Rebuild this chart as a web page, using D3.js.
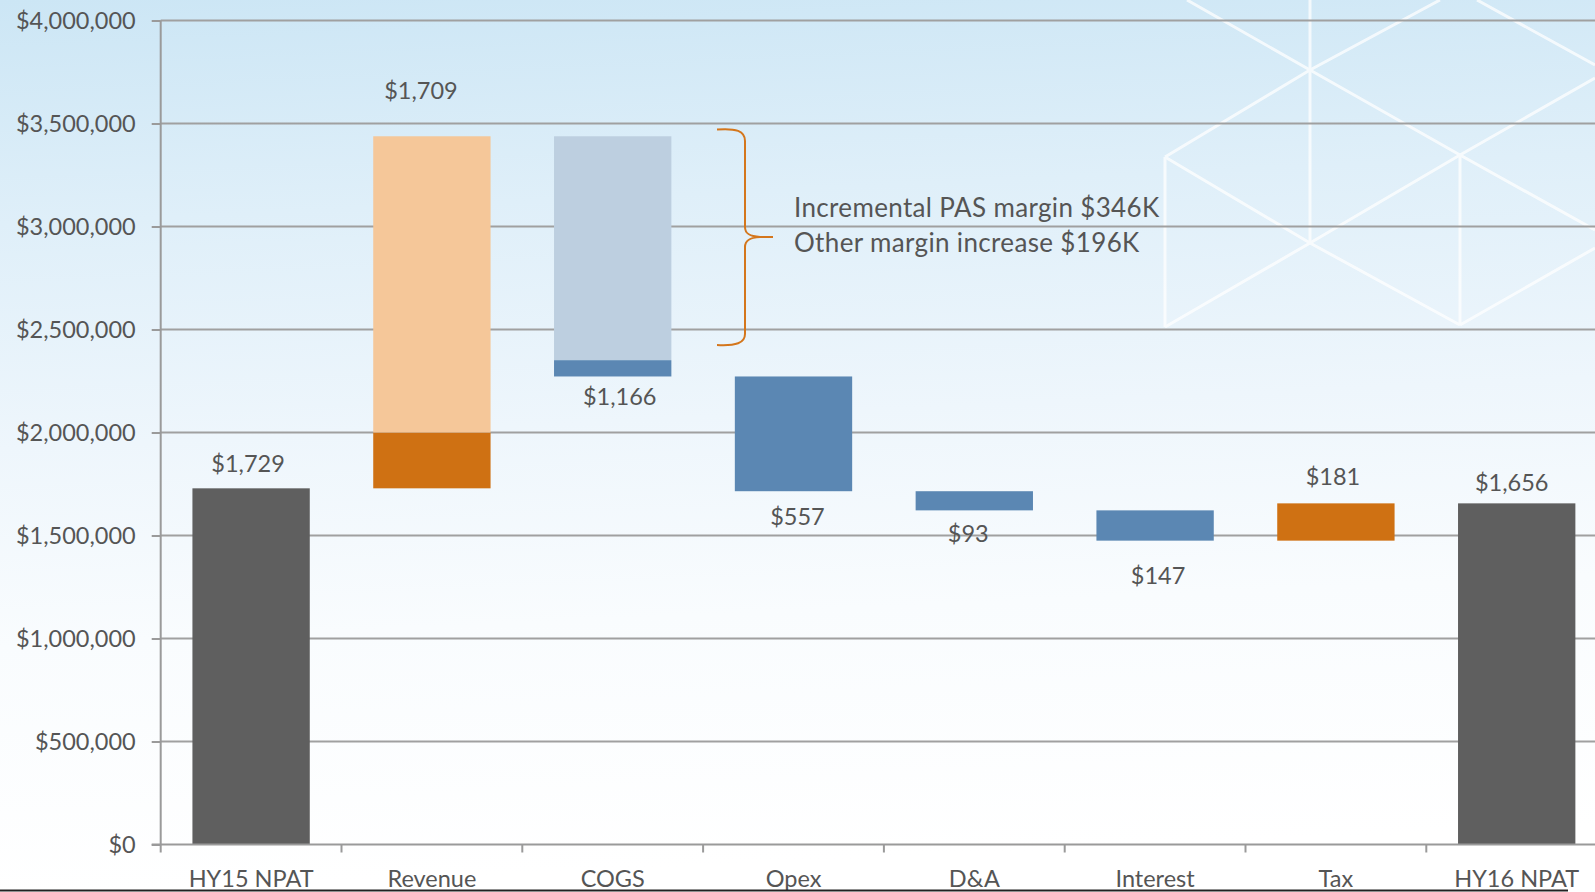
<!DOCTYPE html>
<html lang="en">
<head>
<meta charset="UTF-8"/>
<title>HY16 NPAT bridge</title>
<script src="https://d3js.org/d3.v7.min.js"></script>
<style>
  html, body { margin: 0; padding: 0; overflow: hidden; background: #fff; }
  svg { display: block; }
  text { font-family: Lato, "Open Sans", sans-serif; fill: #555; }
</style>
</head>
<body>
<svg id="chart" width="1595" height="892"></svg>
<script>
// data, $K
const categories = ['HY15 NPAT', 'Revenue', 'COGS', 'Opex', 'D&A', 'Interest', 'Tax', 'HY16 NPAT'];
const kinds      = ['total', 'up', 'down', 'down', 'down', 'down', 'up', 'total'];
const amounts    = [1729, 1709, 1166, 557, 93, 147, 181, 1656];
// revenue stacked bottom -> top: other revenue, PAS revenue
const revenueParts = [271, 1438];
// COGS stacked top -> bottom: PAS cogs, other cogs
const cogsParts = [1087, 79];
const yTicks = [0, 500000, 1000000, 1500000, 2000000, 2500000, 3000000, 3500000, 4000000];
const noteLines = ['Incremental PAS margin $346K', 'Other margin increase $196K'];

// layout
const W = 1595, H = 892;
const x0 = 160.7, step = 180.8, yTop = 20.5, yBase = 844.5;
const labelGap = [25, 45, 20, 26, 23, 35, 27, 21];
const labelDx  = [-3, -11, 7, 4, -6, 3, -3, -5];
const colors = { total: '#5f5f5f', up: '#cf7113', upLight: '#f5c799', down: '#5b87b3', downLight: '#bdcfe0' };

const svg = d3.select('#chart');

// background gradient
const defs = svg.append('defs');
const grad = defs.append('linearGradient').attr('id', 'bg').attr('x1', 0).attr('y1', 0).attr('x2', 0.08).attr('y2', 1);
[[0, '#cce6f5'], [0.25, '#dfeff9'], [0.5, '#eef6fc'], [0.72, '#f9fcfe'], [1, '#ffffff']]
  .forEach(([o, c]) => grad.append('stop').attr('offset', o).attr('stop-color', c));
svg.append('rect').attr('width', W).attr('height', H).attr('fill', 'url(#bg)');

// decorative cube lines, top right
const deco = svg.append('g').attr('stroke', '#ffffff').attr('stroke-width', 3).attr('fill', 'none').attr('opacity', 0.75);
[
  'M1310,0 L1310,243',
  'M1165,157 L1165,327',
  'M1460,155 L1460,325',
  'M1187,0 L1310,70 L1460,155 L1595,230',
  'M1440,0 L1310,70 L1165,157',
  'M1165,157 L1310,243 L1460,325',
  'M1165,327 L1310,243 L1460,155 L1595,78',
  'M1477,0 L1595,65',
  'M1460,325 L1595,248'
].forEach(d => deco.append('path').attr('d', d));

// scales
const x = d3.scaleBand().domain(categories)
  .range([x0, x0 + step * categories.length])
  .paddingInner(0.351).paddingOuter(0.1755);
const y = d3.scaleLinear().domain([0, 4000000]).range([yBase, yTop]);

// gridlines
svg.append('g').selectAll('line').data(yTicks.slice(1)).join('line')
  .attr('x1', x0).attr('x2', W)
  .attr('y1', d => y(d)).attr('y2', d => y(d))
  .attr('stroke', '#a0a0a0').attr('stroke-width', 2);

// y axis
const yAxis = svg.append('g').attr('transform', `translate(${x0},0)`)
  .call(d3.axisLeft(y).tickValues(yTicks).tickSize(9).tickPadding(16)
    .tickFormat(d => '$' + d3.format(',')(d)));
yAxis.select('.domain').attr('stroke', '#9a9a9a').attr('stroke-width', 2).attr('d', `M0,${yBase}V${yTop}`);
yAxis.selectAll('.tick line').attr('stroke', '#9a9a9a').attr('stroke-width', 2);
yAxis.selectAll('text').style('font-size', '23.5px').style('font-family', 'Lato, sans-serif').attr('fill', '#555');

// build waterfall segments
const segs = [];
const labels = [];
let running = 0;
categories.forEach((c, i) => {
  const k = kinds[i], v = amounts[i] * 1000;
  if (k === 'total') {
    segs.push({ c, lo: 0, hi: v, color: colors.total });
    running = v;
    labels.push({ i, v: amounts[i], y: y(v) - labelGap[i] });
  } else if (k === 'up') {
    if (c === 'Revenue') {
      let b = running;
      revenueParts.forEach((p, j) => {
        segs.push({ c, lo: b, hi: b + p * 1000, color: j === 0 ? colors.up : colors.upLight });
        b += p * 1000;
      });
    } else {
      segs.push({ c, lo: running, hi: running + v, color: colors.up });
    }
    running += v;
    labels.push({ i, v: amounts[i], y: y(running) - labelGap[i] });
  } else {
    if (c === 'COGS') {
      let t = running;
      cogsParts.forEach((p, j) => {
        segs.push({ c, lo: t - p * 1000, hi: t, color: j === 0 ? colors.downLight : colors.down });
        t -= p * 1000;
      });
    } else {
      segs.push({ c, lo: running - v, hi: running, color: colors.down });
    }
    running -= v;
    labels.push({ i, v: amounts[i], y: y(running) + labelGap[i] });
  }
});

svg.append('g').selectAll('rect').data(segs).join('rect')
  .attr('x', d => x(d.c)).attr('width', x.bandwidth())
  .attr('y', d => y(d.hi)).attr('height', d => y(d.lo) - y(d.hi))
  .attr('fill', d => d.color);

// x axis
const xAxis = svg.append('g').attr('transform', `translate(0,${yBase})`);
xAxis.append('line').attr('x1', x0 - 9).attr('x2', W).attr('stroke', '#9a9a9a').attr('stroke-width', 2);
xAxis.selectAll('line.tk').data(d3.range(categories.length + 1)).join('line').attr('class', 'tk')
  .attr('x1', i => x0 + i * step).attr('x2', i => x0 + i * step)
  .attr('y1', 0).attr('y2', 8).attr('stroke', '#9a9a9a').attr('stroke-width', 2);
xAxis.selectAll('text').data(categories).join('text')
  .attr('x', d => x(d) + x.bandwidth() / 2).attr('y', 34).attr('dy', '0.35em')
  .attr('text-anchor', 'middle').style('font-size', '23.5px').text(d => d);

// value labels
svg.append('g').selectAll('text').data(labels).join('text')
  .attr('x', d => x(categories[d.i]) + x.bandwidth() / 2 + labelDx[d.i])
  .attr('y', d => d.y).attr('dy', '0.35em')
  .attr('text-anchor', 'middle').style('font-size', '23.5px')
  .text(d => '$' + d3.format(',')(d.v));

// brace + note
svg.append('path')
  .attr('d', 'M717,129.5 C736,128 745,131 745,141 L745,227 C745,234 750,236.5 760,237 L773,237 M760,237 C750,237.5 745,240 745,247 L745,334 C745,343 736,346 717,345')
  .attr('fill', 'none').attr('stroke', '#d4761c').attr('stroke-width', 2);
svg.append('g').selectAll('text').data(noteLines).join('text')
  .attr('x', 794).attr('y', (d, i) => 207.7 + i * 35.6).attr('dy', '0.35em')
  .style('font-size', '26px').style('letter-spacing', '0.35px').text(d => d);

// slide border at bottom
svg.append('line').attr('x1', 0).attr('x2', 1568).attr('y1', 890.5).attr('y2', 890.5)
  .attr('stroke', '#222').attr('stroke-width', 2);
</script>
</body>
</html>
